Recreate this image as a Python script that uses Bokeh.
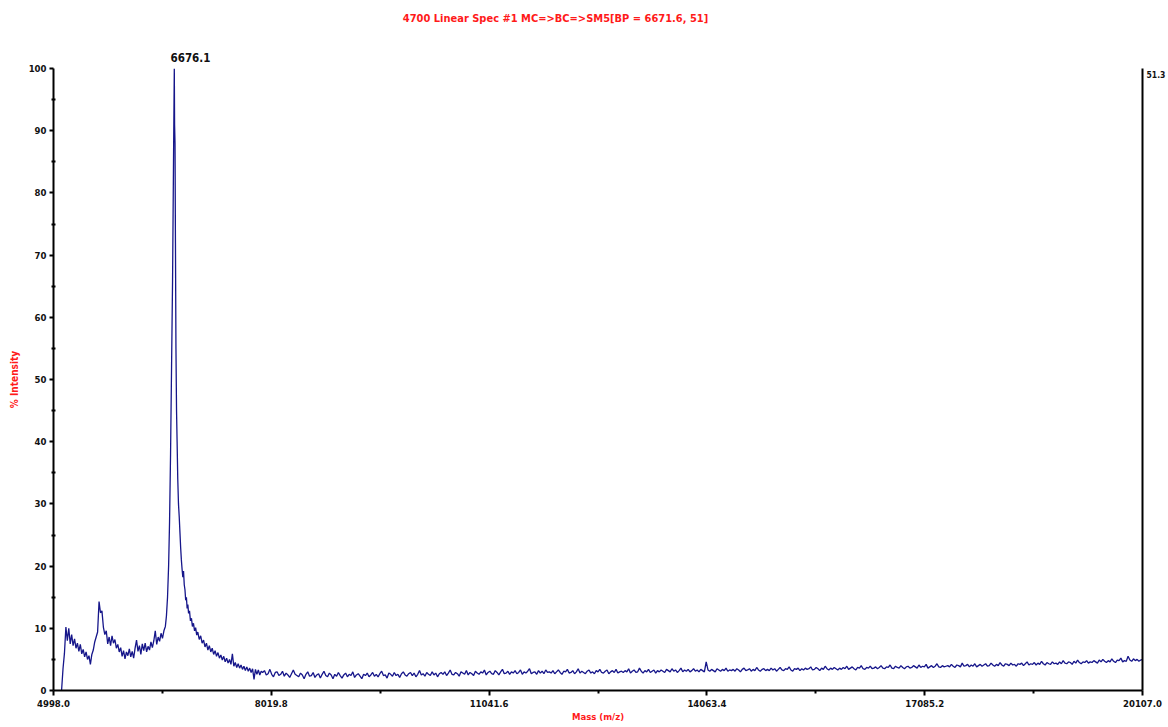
import numpy as np
from bokeh.plotting import figure
from bokeh.models import Range1d, FixedTicker, LinearAxis, PrintfTickFormatter
from bokeh.embed import file_html
from bokeh.resources import INLINE

FONT = "DejaVu Sans Condensed, Liberation Sans, sans-serif"

# ---- data ----
x_ticks = [4998.0, 8019.8, 11041.6, 14063.4, 17085.2, 20107.0]
x_minor = [6508.9, 9530.7, 12552.5, 15574.3, 18596.1]
y_ticks = [0, 10, 20, 30, 40, 50, 60, 70, 80, 90, 100]
y_minor = [5, 15, 25, 35, 45, 55, 65, 75, 85, 95]

low_start, low_end = 5110, 6550
low_int = [0, 3.5, 6, 10.2, 8, 10, 7.5, 9, 7.2, 8.3, 6.8, 7.6, 6.3, 7.4, 5.9, 6.6,
           5.4, 6.2, 5.0, 5.6, 4.2, 5.8, 6.5, 7.8, 8.6, 9.4, 14.3, 12.5, 12.8, 10.2,
           9.0, 9.6, 7.5, 8.6, 7.2, 8.8, 7.6, 8.2, 6.8, 7.4, 6.2, 6.9, 5.5, 6.4, 5.1,
           6.2, 5.6, 6.7, 5.4, 6.3, 5.2, 6.8, 8.1, 6.3, 7.2, 5.8, 7.5, 6.4, 7.6, 6.2,
           7.1, 6.5, 7.8, 6.9, 8.0, 9.6, 7.4, 8.6, 7.9, 9.2, 8.4, 9.6, 10.3]

peak_mass = [6565, 6580, 6595, 6608, 6622, 6636, 6650, 6663, 6674, 6678, 6684, 6690,
             6697, 6705, 6713, 6722, 6732, 6742, 6752, 6762, 6772, 6782, 6792, 6802,
             6812, 6822, 6832, 6842, 6852, 6862, 6872, 6885, 6898, 6912, 6925, 6940,
             6955, 6970, 6985]
peak_int = [12, 15, 20, 27, 38, 52, 66, 85, 100, 91, 88, 72,
            55, 45, 40, 34, 30, 28, 25.5, 23, 21, 19.5, 18.2, 19.2,
            17, 16.2, 14.5, 15, 13.2, 13.8, 12.4, 12.8, 11.2, 11.6, 10.3, 10.8,
            9.6, 10.1, 8.9]

tail_start, tail_end = 7000, 7880
tail_int = [9.4, 8.2, 8.8, 7.6, 8.1, 7.0, 7.6, 6.5, 7.2, 6.2, 6.8, 5.8, 6.4, 5.5, 6.1,
            5.2, 5.7, 4.9, 5.5, 4.6, 5.2, 4.4, 5.0, 4.2, 5.9, 3.9, 4.5, 3.7, 4.3, 3.6,
            4.1, 3.4, 3.9, 3.2, 3.8, 3.1, 3.6, 2.9, 3.5, 1.8, 3.4, 2.6, 3.3, 2.5, 3.1]

base_start, base_end = 7900, 20107
base_int = [
    2.9, 3.2, 2.5, 2.7, 3.4, 2.6, 2.2, 2.9, 3.0, 2.4, 2.6, 3.1, 2.3, 2.8, 2.5, 2.1, 2.7, 3.3, 2.6, 2.4,
    2.2, 2.8, 2.5, 1.9, 2.6, 3.0, 2.3, 2.4, 2.9, 2.1, 2.5, 2.7, 2.0, 2.6, 3.1, 2.4, 2.2, 2.8, 2.5, 1.9,
    2.6, 2.3, 2.9, 2.4, 2.0, 2.5, 2.8, 2.2, 2.6, 2.4, 3.0, 2.1, 2.5, 2.7, 2.3, 1.9, 2.6, 2.4, 2.8, 2.2,
    2.5, 2.9, 2.3, 2.6, 2.2, 2.7, 3.1, 2.4, 2.5, 2.0, 2.8, 2.6, 2.3, 2.9, 2.4, 2.6, 2.1, 2.7, 3.0, 2.5,
    2.3, 2.7, 2.9, 2.4, 2.8, 2.2, 2.6, 3.2, 2.5, 2.7, 2.3, 2.9, 2.6, 2.4, 3.0, 2.5, 2.8, 2.2, 2.7, 2.9,
    2.6, 3.0, 2.4, 2.8, 3.3, 2.6, 2.5, 2.9, 2.7, 2.3, 3.0, 2.8, 2.6, 3.2, 2.5, 2.9, 2.7, 2.4, 3.1, 2.8,
    2.6, 3.0, 2.8, 3.3, 2.5, 2.9, 3.1, 2.7, 2.6, 3.2, 2.9, 2.5, 3.0, 3.4, 2.7, 2.8, 3.1, 2.6, 3.0, 2.8,
    3.2, 2.7, 2.9, 3.3, 2.6, 3.0, 2.8, 3.1, 3.5, 2.7, 2.9, 3.0, 2.6, 3.2, 2.8, 3.1, 2.7, 3.3, 2.9, 3.0,
    2.8, 3.2, 2.7, 3.0, 3.3, 2.9, 2.6, 3.1, 3.0, 3.4, 2.8, 2.9, 3.2, 2.7, 3.0, 3.5, 2.8, 3.1, 2.9, 2.7,
    3.1, 3.3, 2.8, 3.0, 2.7, 3.2, 3.0, 3.4, 2.9, 2.8, 3.1, 3.3, 2.7, 3.0, 3.2, 2.9, 3.4, 2.8, 3.0, 3.1,
    2.9, 3.2, 3.0, 3.5, 2.8, 3.1, 3.3, 2.9, 3.0, 3.6, 3.1, 2.8, 3.2, 3.0, 3.4, 2.9, 3.1, 3.3, 2.8, 3.2,
    3.0, 3.3, 3.1, 2.9, 3.4, 3.2, 3.0, 3.5, 3.1, 3.3, 2.9, 3.2, 3.6, 3.0, 3.3, 3.1, 3.4, 3.0, 3.2, 3.5,
    3.1, 3.3, 3.0, 3.4, 3.2, 3.0, 4.6, 3.3, 3.1, 3.4, 3.2, 3.0, 3.5, 3.3, 3.1, 3.4, 3.2, 3.6, 3.1, 3.3,
    3.2, 3.4, 3.1, 3.5, 3.3, 3.0, 3.4, 3.6, 3.2, 3.3, 3.5, 3.1, 3.4, 3.2, 3.7, 3.3, 3.1, 3.4, 3.5, 3.2,
    3.4, 3.2, 3.6, 3.3, 3.5, 3.1, 3.4, 3.7, 3.3, 3.2, 3.5, 3.4, 3.8, 3.3, 3.1, 3.5, 3.4, 3.6, 3.2, 3.5,
    3.3, 3.6, 3.4, 3.5, 3.8, 3.3, 3.4, 3.7, 3.5, 3.2, 3.6, 3.4, 3.9, 3.5, 3.3, 3.6, 3.4, 3.7, 3.5, 3.3,
    3.6, 3.4, 3.7, 3.5, 3.9, 3.4, 3.6, 3.8, 3.5, 3.3, 3.7, 3.6, 4.0, 3.5, 3.4, 3.7, 3.6, 3.9, 3.5, 3.6,
    3.8, 3.5, 3.7, 4.0, 3.6, 3.5, 3.8, 3.7, 4.1, 3.6, 3.5, 3.9, 3.7, 3.6, 4.0, 3.7, 3.5, 3.8, 3.9, 3.6,
    3.7, 4.0, 3.8, 3.6, 4.1, 3.7, 3.9, 3.8, 4.2, 3.6, 3.8, 4.0, 3.7, 3.9, 4.3, 3.8, 3.7, 4.0, 3.8, 3.9,
    4.0, 3.8, 4.2, 3.9, 3.7, 4.1, 4.0, 3.8, 4.4, 3.9, 4.0, 4.2, 3.8, 4.1, 3.9, 4.3, 3.8, 4.0, 4.2, 3.9,
    4.1, 4.3, 3.9, 4.0, 4.4, 4.1, 3.9, 4.2, 4.0, 4.5, 4.1, 3.9, 4.3, 4.2, 4.0, 4.4, 4.1, 4.2, 3.9, 4.3,
    4.2, 4.4, 4.0, 4.3, 4.6, 4.1, 4.3, 4.2, 4.5, 4.1, 4.4, 4.2, 4.7, 4.3, 4.1, 4.5, 4.3, 4.2, 4.6, 4.3,
    4.4, 4.2, 4.6, 4.3, 4.8, 4.4, 4.3, 4.6, 4.5, 4.2, 4.7, 4.4, 4.9, 4.5, 4.3, 4.6, 4.5, 4.8, 4.4, 4.6,
    4.5, 4.8, 4.6, 4.4, 4.9, 4.6, 5.0, 4.7, 4.5, 4.8, 4.6, 5.1, 4.7, 4.5, 4.9, 4.8, 5.2, 4.6, 4.8, 4.7,
    5.5, 4.9, 4.7, 5.1, 4.8, 5.0, 4.7, 4.9, 5.0]

title_text = "4700 Linear Spec #1 MC=>BC=>SM5[BP = 6671.6, 51]"
peak_label = "6676.1"
peak_label_mass = 6676.1
right_label = "51.3"

mass = np.concatenate([
    np.linspace(low_start, low_end, len(low_int)),
    np.array(peak_mass, dtype=float),
    np.linspace(tail_start, tail_end, len(tail_int)),
    np.linspace(base_start, base_end, len(base_int)),
])
intensity = np.concatenate([low_int, peak_int, tail_int, base_int])

# ---- figure ----
X0, X1 = x_ticks[0], x_ticks[-1]
FRAME_W = 1089
per_px = (X1 - X0) / FRAME_W

p = figure(width=1168, height=727,
           x_range=Range1d(X0, X1), y_range=Range1d(0, 100),
           output_backend="svg", toolbar_location=None,
           min_border_left=53, min_border_right=26,
           min_border_top=68, min_border_bottom=37)
p.grid.visible = False
p.outline_line_color = None
p.background_fill_color = "white"

p.line(mass, intensity, line_color="#16168a", line_width=1.3)

xa = p.xaxis[0]
xa.ticker = FixedTicker(ticks=x_ticks, minor_ticks=x_minor)
xa.formatter = PrintfTickFormatter(format="%.1f")
xa.axis_line_width = 2
xa.axis_line_color = "black"
xa.major_tick_line_width = 2
xa.major_tick_out = 5
xa.major_tick_in = 0
xa.minor_tick_line_width = 2
xa.minor_tick_out = 3
xa.minor_tick_in = 0
xa.major_label_standoff = 4
xa.major_label_text_font = FONT
xa.major_label_text_font_style = "bold"
xa.major_label_text_font_size = "9.5px"
xa.major_label_text_color = "#111111"
xa.axis_label = "Mass (m/z)"
xa.axis_label_text_font = FONT
xa.axis_label_text_font_style = "bold"
xa.axis_label_text_font_size = "9.5px"
xa.axis_label_text_color = "#ff1a1a"
xa.axis_label_standoff = 1

ya = p.yaxis[0]
ya.ticker = FixedTicker(ticks=y_ticks, minor_ticks=y_minor)
ya.axis_line_width = 2
ya.axis_line_color = "black"
ya.major_tick_line_width = 2
ya.major_tick_out = 4
ya.major_tick_in = 0
ya.minor_tick_line_width = 2
ya.minor_tick_out = 2
ya.minor_tick_in = 2
ya.major_label_standoff = 3
ya.major_label_text_font = FONT
ya.major_label_text_font_style = "bold"
ya.major_label_text_font_size = "9.5px"
ya.major_label_text_color = "#111111"
ya.axis_label = "% Intensity"
ya.axis_label_text_font = FONT
ya.axis_label_text_font_style = "bold"
ya.axis_label_text_font_size = "10px"
ya.axis_label_text_color = "#ff1a1a"
ya.axis_label_standoff = 6

# right-hand frame line carrying the absolute intensity of the base peak
r_tick = 100 - 6 / 6.22
ra = LinearAxis(ticker=FixedTicker(ticks=[r_tick]),
                major_label_overrides={r_tick: right_label},
                axis_line_width=2, axis_line_color="black",
                major_tick_line_color=None, minor_tick_line_color=None,
                major_tick_out=0, minor_tick_out=0, major_tick_in=0, minor_tick_in=0,
                major_label_standoff=4,
                major_label_text_font=FONT, major_label_text_font_style="bold",
                major_label_text_font_size="8.5px", major_label_text_color="#111111")
p.add_layout(ra, "right")

# peak annotation (nearest the frame)
peak_tick = peak_label_mass + 16 * per_px
pa = LinearAxis(ticker=FixedTicker(ticks=[peak_tick]),
                major_label_overrides={peak_tick: peak_label},
                axis_line_color=None, major_tick_line_color=None, minor_tick_line_color=None,
                major_tick_out=0, major_label_standoff=7,
                major_label_text_font=FONT, major_label_text_font_style="bold",
                major_label_text_font_size="11.5px", major_label_text_color="#111111")
p.add_layout(pa, "above")

# spectrum title
title_tick = X0 + (555 - 53) * per_px
ta = LinearAxis(ticker=FixedTicker(ticks=[title_tick]),
                major_label_overrides={title_tick: title_text},
                axis_line_color=None, major_tick_line_color=None, minor_tick_line_color=None,
                major_tick_out=0, major_label_standoff=25,
                major_label_text_font=FONT, major_label_text_font_style="bold",
                major_label_text_font_size="11px", major_label_text_color="#ff1a1a")
p.add_layout(ta, "above")

open("out.html", "w").write(file_html(p, INLINE))
